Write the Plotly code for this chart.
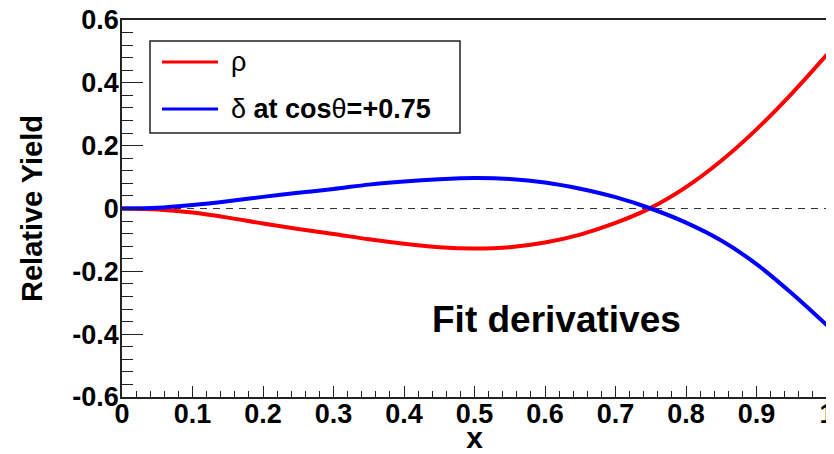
import plotly.graph_objects as go

# ---- data ----
x_vals = [0.0, 0.05, 0.1, 0.15, 0.2, 0.25, 0.3, 0.35, 0.4, 0.45, 0.5,
          0.55, 0.6, 0.65, 0.7, 0.75, 0.8, 0.85, 0.9, 0.95, 1.0]
rho_vals = [0.0, -0.003, -0.013, -0.029, -0.048, -0.065, -0.081, -0.098, -0.112, -0.123, -0.127,
            -0.123, -0.108, -0.083, -0.046, 0.002, 0.068, 0.152, 0.252, 0.366, 0.49]
delta_vals = [0.0, 0.002, 0.011, 0.023, 0.037, 0.050, 0.062, 0.076, 0.086, 0.093, 0.097,
              0.094, 0.083, 0.063, 0.036, 0.0, -0.045, -0.102, -0.177, -0.270, -0.372]

x_tick_vals = [0, 0.1, 0.2, 0.3, 0.4, 0.5, 0.6, 0.7, 0.8, 0.9, 1.0]
x_tick_text = ["0", "0.1", "0.2", "0.3", "0.4", "0.5", "0.6", "0.7", "0.8", "0.9", "1"]
y_tick_vals = [-0.6, -0.4, -0.2, 0, 0.2, 0.4, 0.6]
y_tick_text = ["-0.6", "-0.4", "-0.2", "0", "0.2", "0.4", "0.6"]

series_names = ["\u03c1", "\u03b4<b> at cos</b>\u03b8<b>=+0.75</b>"]
series_colors = ["#ff0000", "#0000ff"]
annotation_text = "Fit derivatives"

FONT = "Liberation Sans, Arial, Helvetica, sans-serif"

# the page body adds an 8px offset; figure is sized to fit the window
OFF = 8
W, H = 834 - OFF, 454 - OFF
# plot-area geometry in screen pixels
L, R, T, B = 122, 827, 20, 397
PW, PH = R - L, B - T


def px_x(p):
    return (p - L) / PW


def px_y(p):
    return (B - p) / PH


fig = go.Figure()
fig.add_trace(go.Scatter(x=x_vals, y=rho_vals, mode="lines",
                         line=dict(color=series_colors[0], width=4, shape="spline", smoothing=0.8),
                         showlegend=False, name="rho"))
fig.add_trace(go.Scatter(x=x_vals, y=delta_vals, mode="lines",
                         line=dict(color=series_colors[1], width=4, shape="spline", smoothing=0.8),
                         showlegend=False, name="delta"))

# dashed zero line
fig.add_shape(type="line", xref="x domain", yref="y", x0=0, x1=1, y0=0, y1=0,
              line=dict(color="#333333", width=1.2, dash="7px,6px"), layer="below")

# legend box (manual, ROOT style)
fig.add_shape(type="rect", xref="paper", yref="paper",
              x0=px_x(150), x1=px_x(460), y0=px_y(133), y1=px_y(41),
              line=dict(color="#222222", width=1.5), fillcolor="white")
legend_rows_px = [62, 109]
for i in range(2):
    yp = px_y(legend_rows_px[i])
    fig.add_shape(type="line", xref="paper", yref="paper",
                  x0=px_x(162), x1=px_x(218), y0=yp, y1=yp,
                  line=dict(color=series_colors[i], width=3))
    fig.add_annotation(xref="paper", yref="paper", x=px_x(229), y=yp,
                       text=series_names[i], showarrow=False, xanchor="left", yanchor="middle",
                       font=dict(family=FONT, size=27, color="black"))

fig.add_annotation(xref="paper", yref="paper", x=px_x(556), y=px_y(319),
                   text="<b>" + annotation_text + "</b>", showarrow=False,
                   xanchor="center", yanchor="middle",
                   font=dict(family=FONT, size=37, color="black"))

fig.update_layout(
    width=W, height=H,
    margin=dict(l=L - OFF, r=W - (R - OFF), t=T - OFF, b=H - (B - OFF)),
    paper_bgcolor="white", plot_bgcolor="white",
    font=dict(family=FONT, color="black"),
    showlegend=False,
)
fig.update_xaxes(
    range=[0, 1], showgrid=False, zeroline=False, automargin=False,
    showline=True, linecolor="#222222", linewidth=1.5, mirror=True,
    tickmode="array", tickvals=x_tick_vals, ticktext=x_tick_text,
    ticks="inside", ticklen=11, tickwidth=1.2, tickcolor="#222222",
    minor=dict(tickmode="linear", tick0=0, dtick=0.02, ticks="inside", ticklen=6,
               tickwidth=1.2, tickcolor="#222222", showgrid=False),
    tickfont=dict(family=FONT, size=27, weight="bold"),
    ticklabelstandoff=-8, ticklabeloverflow="allow",
    title=dict(text="<b>x</b>", font=dict(family=FONT, size=30), standoff=6),
)
fig.update_yaxes(
    range=[-0.6, 0.6], showgrid=False, zeroline=False, automargin=False,
    showline=True, linecolor="#222222", linewidth=1.5, mirror=True,
    tickmode="array", tickvals=y_tick_vals, ticktext=y_tick_text,
    ticks="inside", ticklen=21, tickwidth=1.2, tickcolor="#222222",
    minor=dict(tickmode="linear", tick0=0, dtick=0.04, ticks="inside", ticklen=11,
               tickwidth=1.2, tickcolor="#222222", showgrid=False),
    tickfont=dict(family=FONT, size=27, weight="bold"),
    ticklabelstandoff=-4, ticklabeloverflow="allow",
    title=dict(text="<b>Relative Yield</b>", font=dict(family=FONT, size=29), standoff=21),
)

fig.write_html("out.html")
